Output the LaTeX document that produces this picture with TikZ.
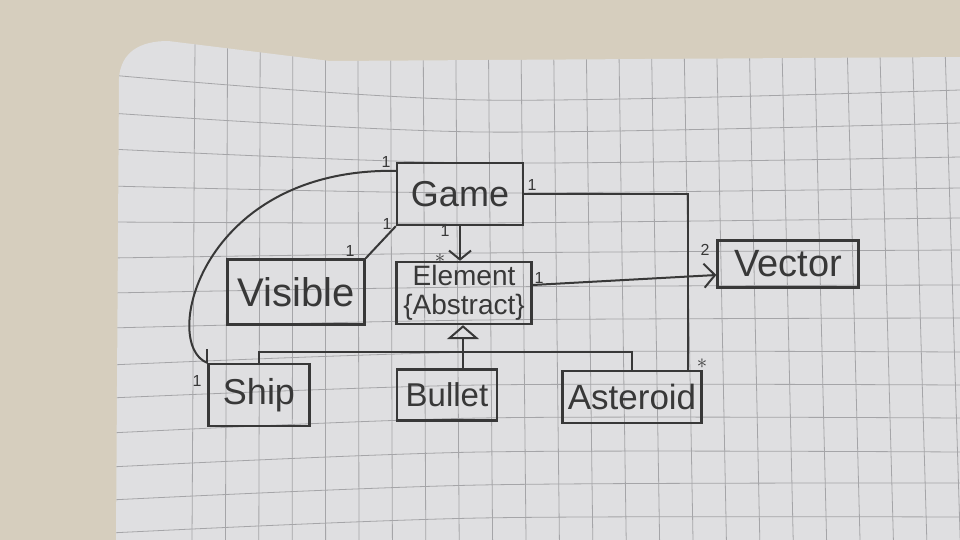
\documentclass[tikz,border=0pt]{standalone}
\usepackage{fontspec}
\setmainfont{Liberation Sans}
\usepackage{tikz}
\usepackage{xcolor}
\usetikzlibrary{arrows.meta, calc, positioning}

\definecolor{desk}{RGB}{214,206,190}
\definecolor{paper}{RGB}{223,223,225}
\definecolor{gridgray}{RGB}{165,165,168}
\definecolor{pen}{RGB}{56,56,56}

\tikzset{
    classbox/.style = {draw = pen, line width = 2.3pt, text = pen, inner sep = 0pt},
    mult/.style = {text = pen, inner sep = 0pt, font = \fontsize{16}{16}\selectfont},
    multstar/.style = {text = pen, inner sep = 0pt, font = \fontsize{22}{22}\selectfont},
    link/.style = {draw = pen, line width = 2pt},
    gridline/.style = {draw = gridgray, line width = 0.8pt},
}

\begin{document}
\begin{tikzpicture}[x = 1pt, y = -1pt]%{{{
                \useasboundingbox (0, 0) rectangle (960, 540);
                \fill[desk] (0, 0) rectangle (960, 540);

                % the sheet of squared paper
                \begin{scope}
                    \clip (116, 540) -- (119, 78) .. controls (121, 52) and (140, 41) .. (168, 41) -- (330, 61) -- (960, 57) -- (960, 540) -- cycle;
                    \fill[paper] (0, 0) rectangle (960, 540);
                    \foreach \k in {0, ..., 23}
                        \draw[gridline] ({195 + 32.6 * \k}, 40) -- ({192 + 33.4 * \k}, 540);
                    \foreach \l/\m/\r in {75/100/90, 113/132/123, 149/163/157, 186/193/188, 222/223/218, 258/253/250, 293/287/285, 328/320/318, 365/352/352, 398/385/385, 433/418/418, 467/452/452, 500/485/483, 533/518/517}
                        \draw[gridline] plot[smooth] coordinates {(110, \l) (480, \m) (960, \r)};
                \end{scope}

                % classes
                \node (Game) [classbox, minimum width = 126pt, minimum height = 62pt, font = \fontsize{36}{36}\selectfont] at (460, 194) { Game };
                \node (Visible) [classbox, minimum width = 137pt, minimum height = 65pt, font = \fontsize{40}{40}\selectfont] at (296, 292) { Visible };
                \node (Element) [classbox, minimum width = 135pt, minimum height = 62pt, align = center, font = \fontsize{28}{29}\selectfont] at (464, 293) { Element\\\{Abstract\} };
                \node (Vector) [classbox, minimum width = 141pt, minimum height = 47pt, font = \fontsize{38}{38}\selectfont] at (788, 264) { Vector };
                \node (Ship) [classbox, minimum width = 101pt, minimum height = 62pt, font = \fontsize{36}{36}\selectfont] at (259, 395) { Ship };
                \node (Bullet) [classbox, minimum width = 100pt, minimum height = 51pt, font = \fontsize{33}{33}\selectfont] at (447, 395) { Bullet };
                \node (Asteroid) [classbox, minimum width = 139pt, minimum height = 52pt, font = \fontsize{35}{35}\selectfont] at (632, 397) { Asteroid };

                % associations
                \draw[link] ([yshift = -9pt]Game.north west) .. controls (200, 168) and (160, 345) .. (Ship.north west);
                \draw[link] (Ship.north west) -- ++(0, -14);
                \draw[link] (Visible.north east) -- (Game.south west);
                \draw[link, -{Straight Barb[length = 9pt, width = 22pt]}] (Game.south) -- (Game.south |- Element.north);
                \draw[link] (Game.east) -| ([xshift = -15pt]Asteroid.north east);
                \draw[link, -{Straight Barb[length = 11pt, width = 24pt]}] ([yshift = 8pt]Element.east) -- ([yshift = -11pt]Vector.west);

                % inheritance
                \coordinate (hier) at (463, 352);
                \draw[link, -{Triangle[open, length = 14pt, width = 32pt]}] ([xshift = 16pt]Bullet.north) -- (hier) -- (hier |- Element.south);
                \draw[link] (Ship.north) |- (hier) -| (Asteroid.north);

                % multiplicities
                \node (mGameShip) [mult] at (386, 162) { 1 };
                \node (mShipGame) [mult] at (197, 381) { 1 };
                \node (mGameVisible) [mult] at (387, 224) { 1 };
                \node (mVisibleGame) [mult] at (350, 251) { 1 };
                \node (mGameElement) [mult] at (445, 231) { 1 };
                \node (mElementGame) [multstar] at (440, 259) { $\ast$ };
                \node (mGameAsteroid) [mult] at (532, 185) { 1 };
                \node (mAsteroidGame) [multstar] at (702, 364) { $\ast$ };
                \node (mElementVector) [mult] at (539, 278) { 1 };
                \node (mVectorElement) [mult] at (705, 250) { 2 };
            \end{tikzpicture}
\end{document}
